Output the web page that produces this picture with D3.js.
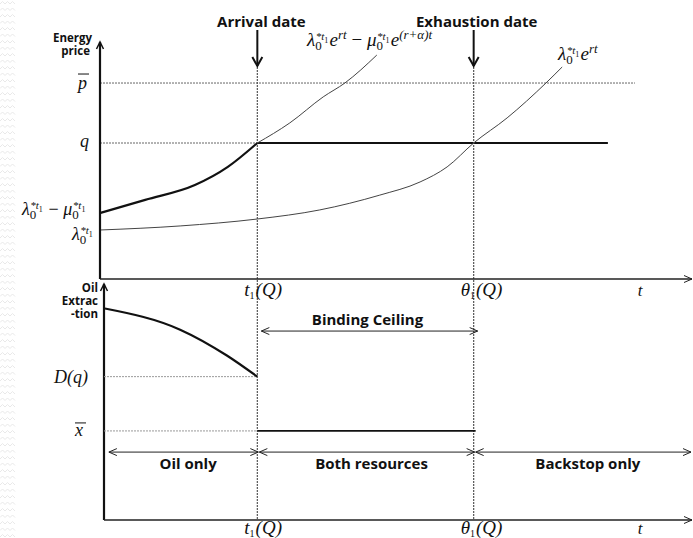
<!DOCTYPE html>
<html>
<head>
<meta charset="utf-8">
<script src="https://cdnjs.cloudflare.com/ajax/libs/d3/7.8.5/d3.min.js"></script>
<style>
  body { margin: 0; background: #fff; }
  .sans { font-family: "Open Sans", Lato, sans-serif; font-weight: bold; fill: #111; }
  .math { font-family: "Liberation Serif", "DejaVu Serif", serif; font-style: italic; fill: #111; }
</style>
</head>
<body>
<div id="chart"></div>
<script>
// time marks on the horizontal axis
const arrivalT = 3.2;     // t1(Q)
const exhaustT = 7.6;     // theta1(Q)

// top panel: price levels and paths
const qLevel = 5.69;
const pBarLevel = 8.2;
const lambdaPath = [[0, 2.05], [1.63, 2.22], [3.2, 2.51], [4.47, 2.89], [5.69, 3.51], [6.51, 4.06],
                    [7.06, 4.69], [7.6, 5.69], [8.28, 6.74], [9.07, 8.2], [9.4, 8.87]];
const lambdaMuPath = [[0, 2.76], [0.92, 3.31], [1.93, 3.93], [2.6, 4.69], [3.2, 5.69],
                      [3.86, 6.53], [4.54, 7.62], [4.98, 8.2], [5.63, 9.37]];
const qLineEnd = 10.33;
const pBarEnd = 10.88;

// bottom panel: extraction
const extraction = [[0.1, 9.0], [1.63, 8.1], [2.58, 7.0], [3.2, 6.1]];
const dqLevel = 6.1;
const xBarLevel = 3.79;
const ceilingRow = 8.04;
const phaseRow = 2.89;
const phases = [
  { label: "Oil only", from: 0.14, to: arrivalT },
  { label: "Both resources", from: arrivalT, to: exhaustT },
  { label: "Backstop only", from: exhaustT, to: 12 }
];

const W = 693, H = 538;
const svg = d3.select("#chart").append("svg").attr("width", W).attr("height", H);

const x = d3.scaleLinear().domain([0, 12]).range([100, 690]);
const yTop = d3.scaleLinear().domain([0, 10]).range([279, 40]);
const yBot = d3.scaleLinear().domain([0, 10]).range([520, 285]);

// faint wavy strip down the left edge of the scan
const strip = svg.append("g").attr("stroke", "#e9e9e9").attr("fill", "none").attr("stroke-width", 1);
for (let yy = 4; yy < H; yy += 6.5) {
  strip.append("path").attr("d", `M0,${yy} l2.5,-2.5 l2.5,2.5 l2.5,-2.5 l2.5,2.5 l2.5,-2.5 l2.5,2.5`);
}

const defs = svg.append("defs");
defs.append("marker").attr("id", "open").attr("viewBox", "-1 -5 10 10")
  .attr("refX", 8).attr("refY", 0).attr("markerWidth", 10).attr("markerHeight", 10)
  .attr("markerUnits", "userSpaceOnUse").attr("orient", "auto-start-reverse")
  .append("path").attr("d", "M0,-3.5 L8,0 L0,3.5").attr("fill", "none").attr("stroke", "#222").attr("stroke-width", 1);

const line = d3.line().x(d => x(d[0])).curve(d3.curveMonotoneX);
const dotted = { stroke: "#666", width: 1, dash: "2,1" };

function hLine(y1, xa, xb, w, color, dash) {
  const l = svg.append("line").attr("x1", xa).attr("x2", xb).attr("y1", y1).attr("y2", y1)
    .attr("stroke", color).attr("stroke-width", w);
  if (dash) l.attr("stroke-dasharray", dash);
  return l;
}

function mathLabel(x0, y0, parts, size) {
  const t = svg.append("text").attr("class", "math").attr("x", x0).attr("y", y0).attr("font-size", size);
  parts.forEach(p => {
    const s = t.append("tspan").text(p.s).attr("y", y0 + (p.dy || 0));
    if (p.dx) s.attr("dx", p.dx);
    if (p.fs) s.attr("font-size", p.fs);
    if (p.up) s.attr("font-style", "normal");
  });
  return t;
}
const nb = "\u00A0";
function sym(s) {
  return [{ s: s }, { s: "0", dy: 4, fs: 13, up: true }, { s: "*t", dy: -6, dx: -6, fs: 11 },
          { s: "1", dy: -3, fs: 8, up: true }, { s: nb, fs: 5 }];
}
const lam = sym("λ");
const mu = sym("μ");
const minus = [{ s: nb + "−" + nb, up: true }];

// ---------- top panel ----------
// reference lines
hLine(yTop(pBarLevel), x(0), x(pBarEnd), 1, dotted.stroke, dotted.dash);
hLine(yTop(qLevel), x(0), x(arrivalT), 1, dotted.stroke, dotted.dash);
hLine(yTop(qLevel), x(arrivalT), x(qLineEnd), 2, "#111");

// vertical date lines
[arrivalT, exhaustT].forEach(t => {
  svg.append("line").attr("x1", x(t)).attr("x2", x(t)).attr("y1", 67).attr("y2", yBot(0))
    .attr("stroke", "#555").attr("stroke-width", 1.2).attr("stroke-dasharray", "2,1");
  svg.append("line").attr("x1", x(t)).attr("x2", x(t)).attr("y1", 30).attr("y2", 66)
    .attr("stroke", "#111").attr("stroke-width", 2);
  svg.append("path").attr("d", `M${x(t) - 5},${57} L${x(t)},${66} L${x(t) + 5},${57}`)
    .attr("fill", "none").attr("stroke", "#111").attr("stroke-width", 2);
});
svg.append("text").attr("class", "sans").attr("x", x(arrivalT) + 4).attr("y", 27)
  .attr("text-anchor", "middle").attr("font-size", 15).text("Arrival date");
svg.append("text").attr("class", "sans").attr("x", x(exhaustT) + 3).attr("y", 27)
  .attr("text-anchor", "middle").attr("font-size", 15).text("Exhaustion date");

// price paths
svg.append("path").datum(lambdaPath).attr("d", line.y(d => yTop(d[1])))
  .attr("fill", "none").attr("stroke", "#444").attr("stroke-width", 1);
svg.append("path").datum(lambdaMuPath.filter(d => d[0] >= arrivalT)).attr("d", line.y(d => yTop(d[1])))
  .attr("fill", "none").attr("stroke", "#444").attr("stroke-width", 1);
svg.append("path").datum(lambdaMuPath.filter(d => d[0] <= arrivalT)).attr("d", line.y(d => yTop(d[1])))
  .attr("fill", "none").attr("stroke", "#111").attr("stroke-width", 2.2);

// axes
svg.append("line").attr("x1", x(0)).attr("x2", x(0)).attr("y1", yTop(0)).attr("y2", 42)
  .attr("stroke", "#111").attr("stroke-width", 2.2);
svg.append("path").attr("d", `M${x(0) - 3.5},49 L${x(0)},42 L${x(0) + 3.5},49`)
  .attr("fill", "none").attr("stroke", "#111").attr("stroke-width", 1.5);
svg.append("line").attr("x1", x(0)).attr("x2", 692).attr("y1", yTop(0)).attr("y2", yTop(0))
  .attr("stroke", "#222").attr("stroke-width", 1.4).attr("marker-end", "url(#open)");

svg.append("text").attr("class", "sans").attr("x", 92).attr("y", 42).attr("text-anchor", "end")
  .attr("font-size", 11.5).text("Energy");
svg.append("text").attr("class", "sans").attr("x", 90).attr("y", 55).attr("text-anchor", "end")
  .attr("font-size", 11.5).text("price");

// y labels top
mathLabel(78, yTop(pBarLevel) + 6, [{ s: "p" }], 18);
hLine(yTop(pBarLevel) - 9, 78, 89, 1, "#111");
mathLabel(80, yTop(qLevel) + 4, [{ s: "q" }], 18);
mathLabel(22, 215, lam.concat(minus).concat(mu), 18);
mathLabel(72, 240, lam, 18);

// curve labels
mathLabel(307, 46, lam.concat([{ s: "e" }, { s: "rt", dy: -7, fs: 13 }]).concat(minus)
  .concat(mu).concat([{ s: "e" }, { s: "(r+α)t", dy: -7, fs: 13 }]), 19);
mathLabel(558, 60, lam.concat([{ s: "e" }, { s: "rt", dy: -7, fs: 13 }]), 19);

// time labels (shared by both panels)
function timeLabels(y0) {
  mathLabel(x(arrivalT) - 13, y0, [{ s: "t" }, { s: "1", dy: 3, fs: 10, up: true }, { s: nb, fs: 4 }, { s: "(Q)" }], 19);
  mathLabel(x(exhaustT) - 13, y0, [{ s: "θ" }, { s: "1", dy: 3, fs: 10, up: true }, { s: nb, fs: 4 }, { s: "(Q)" }], 19);
  mathLabel(x(11.0) - 3, y0, [{ s: "t" }], 17);
}
timeLabels(yTop(0) + 17);

// ---------- bottom panel ----------
const bx0 = x(0) + 4;
svg.append("line").attr("x1", bx0).attr("x2", bx0).attr("y1", yBot(0)).attr("y2", 284)
  .attr("stroke", "#111").attr("stroke-width", 2.2);
svg.append("path").attr("d", `M${bx0 - 3.5},291 L${bx0},284 L${bx0 + 3.5},291`)
  .attr("fill", "none").attr("stroke", "#111").attr("stroke-width", 1.5);
svg.append("line").attr("x1", bx0).attr("x2", 692).attr("y1", yBot(0)).attr("y2", yBot(0))
  .attr("stroke", "#222").attr("stroke-width", 1.4).attr("marker-end", "url(#open)");

["Oil", "Extrac", "-tion"].forEach((s, i) => {
  svg.append("text").attr("class", "sans").attr("x", 98).attr("y", 292 + i * 13)
    .attr("text-anchor", "end").attr("font-size", 11.5).text(s);
});

// D(q) and x-bar
hLine(yBot(dqLevel), bx0, x(arrivalT), 1, "#999", "2,1");
hLine(yBot(xBarLevel), bx0, x(arrivalT), 1, "#999", "2,1");
hLine(yBot(xBarLevel), x(arrivalT), x(exhaustT) + 2, 1.8, "#111");
mathLabel(54, yBot(dqLevel) + 6, [{ s: "D(q)" }], 18);
mathLabel(75, yBot(xBarLevel) + 5, [{ s: "x" }], 18);
hLine(yBot(xBarLevel) - 8, 75, 86, 1, "#111");

svg.append("path").datum(extraction).attr("d", line.y(d => yBot(d[1])))
  .attr("fill", "none").attr("stroke", "#111").attr("stroke-width", 2.2);

// binding ceiling
svg.append("line").attr("x1", x(arrivalT) + 4).attr("x2", x(exhaustT) + 4)
  .attr("y1", yBot(ceilingRow)).attr("y2", yBot(ceilingRow))
  .attr("stroke", "#222").attr("stroke-width", 1)
  .attr("marker-start", "url(#open)").attr("marker-end", "url(#open)");
svg.append("text").attr("class", "sans").attr("x", (x(arrivalT) + x(exhaustT)) / 2 + 2)
  .attr("y", yBot(ceilingRow) - 6).attr("text-anchor", "middle").attr("font-size", 15).text("Binding Ceiling");

// phases
phases.forEach(p => {
  svg.append("line").attr("x1", x(p.from) + 2).attr("x2", Math.min(x(p.to) + 1, 692))
    .attr("y1", yBot(phaseRow)).attr("y2", yBot(phaseRow))
    .attr("stroke", "#222").attr("stroke-width", 1)
    .attr("marker-start", "url(#open)").attr("marker-end", "url(#open)");
  svg.append("text").attr("class", "sans")
    .attr("x", (x(p.from) + Math.min(x(p.to), 692)) / 2 + 6)
    .attr("y", yBot(phaseRow) + 17).attr("text-anchor", "middle").attr("font-size", 15).text(p.label);
});

timeLabels(yBot(0) + 14);
</script>
</body>
</html>
